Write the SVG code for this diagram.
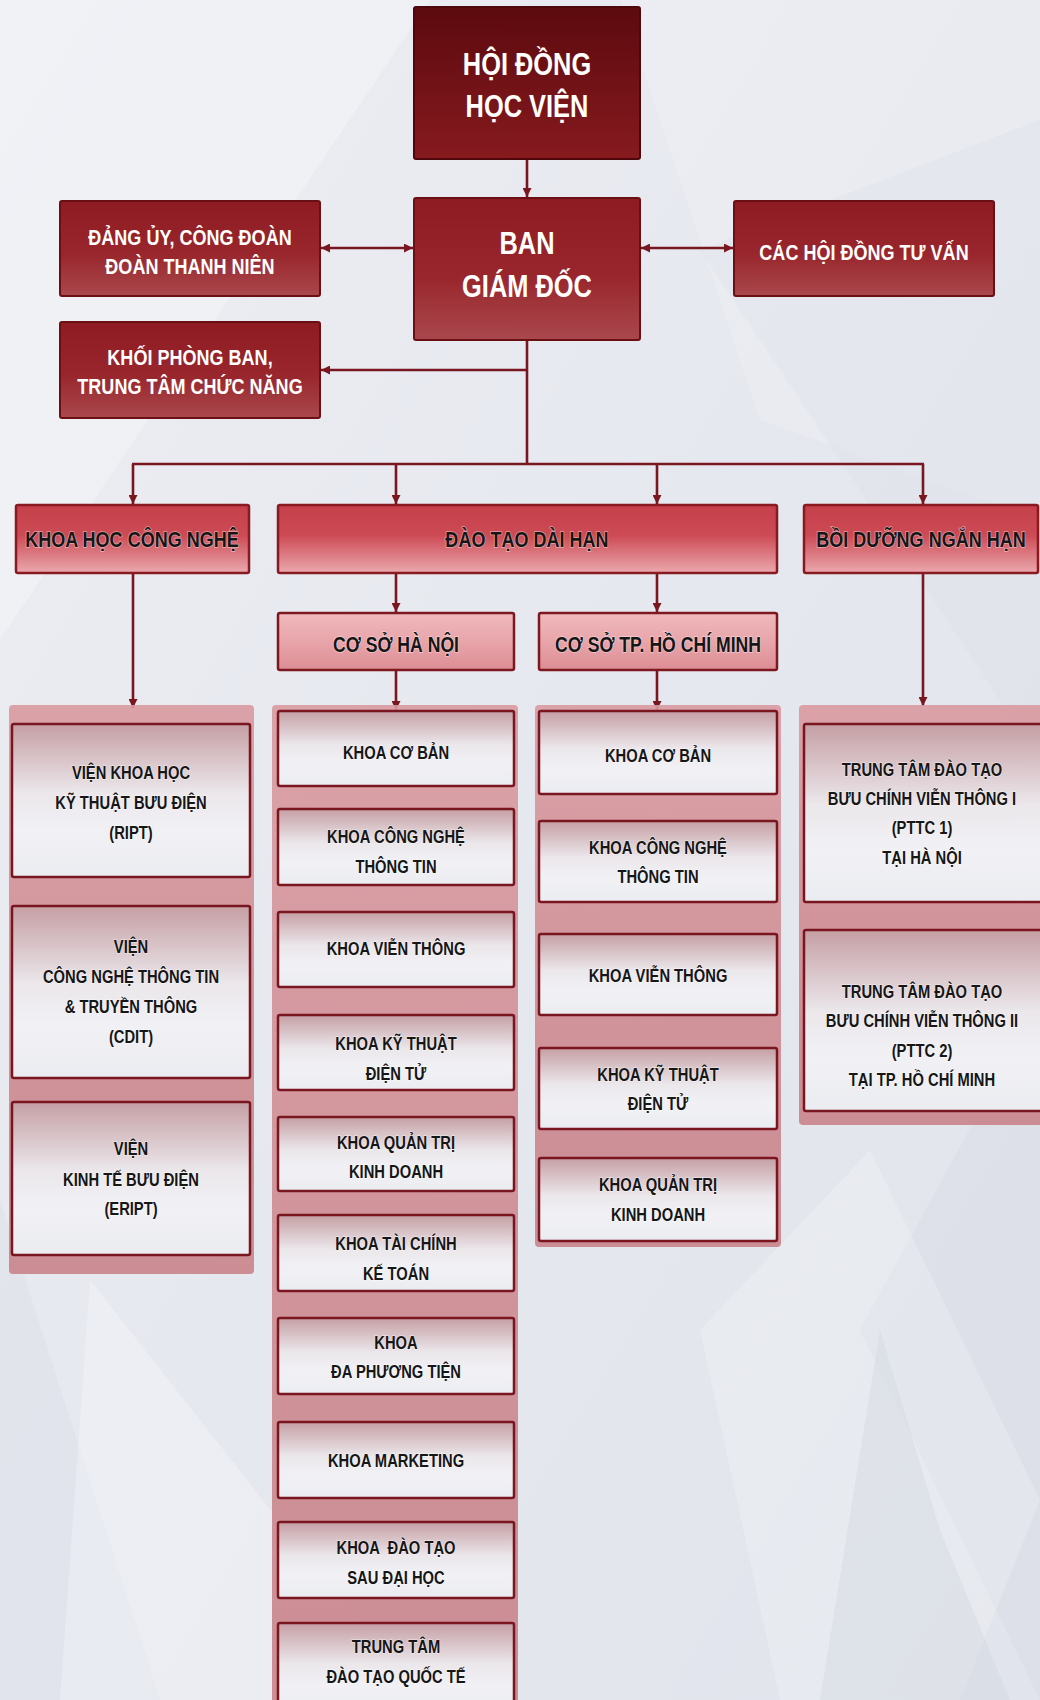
<svg xmlns="http://www.w3.org/2000/svg" width="1040" height="1700" viewBox="0 0 1040 1700">
<defs>
<linearGradient id="bg" x1="0" y1="0" x2="1" y2="1">
<stop offset="0" stop-color="#eceef3"/><stop offset="0.5" stop-color="#e6e8ef"/><stop offset="1" stop-color="#e1e4ec"/>
</linearGradient>
<linearGradient id="gTop" x1="0" y1="0" x2="0" y2="1">
<stop offset="0" stop-color="#5c0a0f"/><stop offset="1" stop-color="#861a1f"/>
</linearGradient>
<linearGradient id="gMid" x1="0" y1="0" x2="0" y2="1">
<stop offset="0" stop-color="#8e1b21"/><stop offset="0.55" stop-color="#98262c"/><stop offset="1" stop-color="#a9484d"/>
</linearGradient>
<linearGradient id="gL2" x1="0" y1="0" x2="0" y2="1">
<stop offset="0" stop-color="#c43f49"/><stop offset="0.45" stop-color="#cd4b55"/><stop offset="1" stop-color="#eaa9ae"/>
</linearGradient>
<linearGradient id="gCs" x1="0" y1="0" x2="0" y2="1">
<stop offset="0" stop-color="#f0b9bd"/><stop offset="0.5" stop-color="#e8a5aa"/><stop offset="1" stop-color="#dc8d94"/>
</linearGradient>
<linearGradient id="gPanel" x1="0" y1="0" x2="0" y2="1">
<stop offset="0" stop-color="#d99aa0"/><stop offset="0.5" stop-color="#cf8b92"/><stop offset="1" stop-color="#c9838a"/>
</linearGradient>
<linearGradient id="gBox" x1="0" y1="0" x2="0" y2="1">
<stop offset="0" stop-color="#c59fa4"/><stop offset="0.45" stop-color="#ebe7eb"/><stop offset="0.7" stop-color="#f1f1f5"/><stop offset="1" stop-color="#ebecf1"/>
</linearGradient>
<marker id="ah" viewBox="0 0 10 10" refX="10" refY="5" markerWidth="9" markerHeight="9" markerUnits="userSpaceOnUse" orient="auto-start-reverse">
<path d="M0,0 L10,5 L0,10 z" fill="#7a1620"/>
</marker>
<style>
.w{font-family:'Liberation Sans',Arial,sans-serif;font-weight:bold;fill:#fff;text-anchor:middle}
.d{font-family:'Liberation Sans',Arial,sans-serif;font-weight:bold;fill:#161616;text-anchor:middle;stroke:#ffffff;stroke-opacity:0.45;stroke-width:1.6;paint-order:stroke}
.f31{font-size:31px}.f22{font-size:22px}.f21{font-size:21.5px}.f18{font-size:18px}
.bTop{fill:url(#gTop);stroke:#4e080c;stroke-width:2}
.bMid{fill:url(#gMid);stroke:#6a1015;stroke-width:2}
.bL2{fill:url(#gL2);stroke:#8a1a22;stroke-width:2.5}
.bCs{fill:url(#gCs);stroke:#7e1820;stroke-width:2.5}
.panel{fill:url(#gPanel);opacity:0.9}
.box{fill:url(#gBox);stroke:#7a1620;stroke-width:2.5}
.c{stroke:#7a1620;stroke-width:2.6;fill:none}
</style>
</defs>

<g id="background">
<rect width="1040" height="1700" fill="url(#bg)"/>
<polygon points="0,0 430,0 0,640" fill="#ffffff" opacity="0.25"/>
<polygon points="620,0 1040,0 1040,520 760,420" fill="#ffffff" opacity="0.15"/>
<polygon points="700,250 1040,120 1040,760" fill="#d6dae3" opacity="0.25"/>
<polygon points="0,1200 160,1700 0,1700" fill="#d8dbe4" opacity="0.3"/>
<polygon points="90,1280 420,1700 60,1700" fill="#ffffff" opacity="0.25"/>
<polygon points="1040,1000 860,1330 1040,1700" fill="#d6d9e3" opacity="0.4"/>
<polygon points="700,1330 870,1150 1040,1500 960,1700 780,1700" fill="#ffffff" opacity="0.2"/>
<polygon points="880,1330 940,1530 1010,1700 820,1700" fill="#cfd3de" opacity="0.35"/>
</g>

<g id="connectors">
<line class="c" x1="527" y1="159" x2="527" y2="197" marker-end="url(#ah)"/>
<line class="c" x1="321" y1="248" x2="413" y2="248" marker-start="url(#ah)" marker-end="url(#ah)"/>
<line class="c" x1="641" y1="248" x2="733" y2="248" marker-start="url(#ah)" marker-end="url(#ah)"/>
<line class="c" x1="527" y1="340" x2="527" y2="465"/>
<line class="c" x1="527" y1="370" x2="321" y2="370" marker-end="url(#ah)"/>
<line class="c" x1="132" y1="464" x2="924" y2="464"/>
<line class="c" x1="133" y1="464" x2="133" y2="504" marker-end="url(#ah)"/>
<line class="c" x1="396" y1="464" x2="396" y2="504" marker-end="url(#ah)"/>
<line class="c" x1="657" y1="464" x2="657" y2="504" marker-end="url(#ah)"/>
<line class="c" x1="923" y1="464" x2="923" y2="504" marker-end="url(#ah)"/>
<line class="c" x1="396" y1="573" x2="396" y2="612" marker-end="url(#ah)"/>
<line class="c" x1="657" y1="573" x2="657" y2="612" marker-end="url(#ah)"/>
<line class="c" x1="133" y1="573" x2="133" y2="708" marker-end="url(#ah)"/>
<line class="c" x1="923" y1="573" x2="923" y2="706" marker-end="url(#ah)"/>
<line class="c" x1="396" y1="670" x2="396" y2="710" marker-end="url(#ah)"/>
<line class="c" x1="657" y1="670" x2="657" y2="710" marker-end="url(#ah)"/>
</g>

<g id="panels">
<rect class="panel" x="9" y="705" width="245" height="569" rx="4"/>
<rect class="panel" x="272" y="705" width="246" height="1000" rx="4"/>
<rect class="panel" x="535" y="705" width="246" height="542" rx="4"/>
<rect class="panel" x="799" y="705" width="245" height="420" rx="4"/>
</g>

<g id="hoi-dong-hoc-vien">
<rect class="bTop" x="414" y="7" width="226" height="152" rx="2"/>
<g transform="translate(527 0) scale(0.82 1)">
<text class="w f31" y="75">HỘI ĐỒNG</text>
<text class="w f31" y="117">HỌC VIỆN</text>
</g>
</g>
<g id="ban-giam-doc">
<rect class="bMid" x="414" y="198" width="226" height="142" rx="2"/>
<g transform="translate(527 0) scale(0.82 1)">
<text class="w f31" y="254">BAN</text>
<text class="w f31" y="297">GIÁM ĐỐC</text>
</g>
</g>
<g id="dang-uy">
<rect class="bMid" x="60" y="201" width="260" height="95" rx="2"/>
<g transform="translate(190 0) scale(0.82 1)">
<text class="w f22" y="245">ĐẢNG ỦY, CÔNG ĐOÀN</text>
<text class="w f22" y="274">ĐOÀN THANH NIÊN</text>
</g>
</g>
<g id="cac-hoi-dong-tu-van">
<rect class="bMid" x="734" y="201" width="260" height="95" rx="2"/>
<g transform="translate(864 0) scale(0.82 1)">
<text class="w f22" y="260">CÁC HỘI ĐỒNG TƯ VẤN</text>
</g>
</g>
<g id="khoi-phong-ban">
<rect class="bMid" x="60" y="322" width="260" height="96" rx="2"/>
<g transform="translate(190 0) scale(0.82 1)">
<text class="w f22" y="365">KHỐI PHÒNG BAN,</text>
<text class="w f22" y="394">TRUNG TÂM CHỨC NĂNG</text>
</g>
</g>

<g id="khoa-hoc-cong-nghe">
<rect class="bL2" x="16" y="505" width="233" height="68" rx="2"/>
<g transform="translate(132 0) scale(0.82 1)">
<text class="d f22" y="547">KHOA HỌC CÔNG NGHỆ</text>
</g>
</g>
<g id="dao-tao-dai-han">
<rect class="bL2" x="278" y="505" width="499" height="68" rx="2"/>
<g transform="translate(527 0) scale(0.82 1)">
<text class="d f22" y="547">ĐÀO TẠO DÀI HẠN</text>
</g>
</g>
<g id="boi-duong-ngan-han">
<rect class="bL2" x="804" y="505" width="234" height="68" rx="2"/>
<g transform="translate(921 0) scale(0.82 1)">
<text class="d f22" y="547">BỒI DƯỠNG NGẮN HẠN</text>
</g>
</g>

<g id="co-so-ha-noi">
<rect class="bCs" x="278" y="613" width="236" height="57" rx="2"/>
<g transform="translate(396 0) scale(0.82 1)">
<text class="d f21" y="652">CƠ SỞ HÀ NỘI</text>
</g>
</g>
<g id="co-so-hcm">
<rect class="bCs" x="539" y="613" width="238" height="57" rx="2"/>
<g transform="translate(658 0) scale(0.82 1)">
<text class="d f21" y="652">CƠ SỞ TP. HỒ CHÍ MINH</text>
</g>
</g>

<g id="vien-ript">
<rect class="box" x="12" y="724" width="238" height="153" rx="2"/>
<g transform="translate(131 0) scale(0.82 1)">
<text class="d f18" y="779">VIỆN KHOA HỌC</text>
<text class="d f18" y="809">KỸ THUẬT BƯU ĐIỆN</text>
<text class="d f18" y="839">(RIPT)</text>
</g>
</g>
<g id="vien-cdit">
<rect class="box" x="12" y="906" width="238" height="172" rx="2"/>
<g transform="translate(131 0) scale(0.82 1)">
<text class="d f18" y="953">VIỆN</text>
<text class="d f18" y="983">CÔNG NGHỆ THÔNG TIN</text>
<text class="d f18" y="1013">&amp; TRUYỀN THÔNG</text>
<text class="d f18" y="1043">(CDIT)</text>
</g>
</g>
<g id="vien-eript">
<rect class="box" x="12" y="1102" width="238" height="153" rx="2"/>
<g transform="translate(131 0) scale(0.82 1)">
<text class="d f18" y="1155">VIỆN</text>
<text class="d f18" y="1186">KINH TẾ BƯU ĐIỆN</text>
<text class="d f18" y="1215">(ERIPT)</text>
</g>
</g>

<g id="hn-khoa-co-ban">
<rect class="box" x="278" y="711" width="236" height="75" rx="2"/>
<g transform="translate(396 0) scale(0.82 1)">
<text class="d f18" y="759">KHOA CƠ BẢN</text>
</g>
</g>
<g id="hn-khoa-cntt">
<rect class="box" x="278" y="809" width="236" height="76" rx="2"/>
<g transform="translate(396 0) scale(0.82 1)">
<text class="d f18" y="843">KHOA CÔNG NGHỆ</text>
<text class="d f18" y="873">THÔNG TIN</text>
</g>
</g>
<g id="hn-khoa-vien-thong">
<rect class="box" x="278" y="912" width="236" height="75" rx="2"/>
<g transform="translate(396 0) scale(0.82 1)">
<text class="d f18" y="955">KHOA VIỄN THÔNG</text>
</g>
</g>
<g id="hn-khoa-ktdt">
<rect class="box" x="278" y="1015" width="236" height="75" rx="2"/>
<g transform="translate(396 0) scale(0.82 1)">
<text class="d f18" y="1050">KHOA KỸ THUẬT</text>
<text class="d f18" y="1080">ĐIỆN TỬ</text>
</g>
</g>
<g id="hn-khoa-qtkd">
<rect class="box" x="278" y="1117" width="236" height="74" rx="2"/>
<g transform="translate(396 0) scale(0.82 1)">
<text class="d f18" y="1149">KHOA QUẢN TRỊ</text>
<text class="d f18" y="1178">KINH DOANH</text>
</g>
</g>
<g id="hn-khoa-tckt">
<rect class="box" x="278" y="1215" width="236" height="76" rx="2"/>
<g transform="translate(396 0) scale(0.82 1)">
<text class="d f18" y="1250">KHOA TÀI CHÍNH</text>
<text class="d f18" y="1280">KẾ TOÁN</text>
</g>
</g>
<g id="hn-khoa-dpt">
<rect class="box" x="278" y="1318" width="236" height="76" rx="2"/>
<g transform="translate(396 0) scale(0.82 1)">
<text class="d f18" y="1349">KHOA</text>
<text class="d f18" y="1378">ĐA PHƯƠNG TIỆN</text>
</g>
</g>
<g id="hn-khoa-marketing">
<rect class="box" x="278" y="1422" width="236" height="76" rx="2"/>
<g transform="translate(396 0) scale(0.82 1)">
<text class="d f18" y="1467">KHOA MARKETING</text>
</g>
</g>
<g id="hn-khoa-sdh">
<rect class="box" x="278" y="1522" width="236" height="76" rx="2"/>
<g transform="translate(396 0) scale(0.82 1)">
<text class="d f18" y="1554" xml:space="preserve">KHOA  ĐÀO TẠO</text>
<text class="d f18" y="1584">SAU ĐẠI HỌC</text>
</g>
</g>
<g id="hn-tt-dtqt">
<rect class="box" x="278" y="1623" width="236" height="90" rx="2"/>
<g transform="translate(396 0) scale(0.82 1)">
<text class="d f18" y="1653">TRUNG TÂM</text>
<text class="d f18" y="1683">ĐÀO TẠO QUỐC TẾ</text>
</g>
</g>

<g id="hcm-khoa-co-ban">
<rect class="box" x="539" y="711" width="238" height="83" rx="2"/>
<g transform="translate(658 0) scale(0.82 1)">
<text class="d f18" y="762">KHOA CƠ BẢN</text>
</g>
</g>
<g id="hcm-khoa-cntt">
<rect class="box" x="539" y="821" width="238" height="81" rx="2"/>
<g transform="translate(658 0) scale(0.82 1)">
<text class="d f18" y="854">KHOA CÔNG NGHỆ</text>
<text class="d f18" y="883">THÔNG TIN</text>
</g>
</g>
<g id="hcm-khoa-vien-thong">
<rect class="box" x="539" y="934" width="238" height="81" rx="2"/>
<g transform="translate(658 0) scale(0.82 1)">
<text class="d f18" y="982">KHOA VIỄN THÔNG</text>
</g>
</g>
<g id="hcm-khoa-ktdt">
<rect class="box" x="539" y="1048" width="238" height="81" rx="2"/>
<g transform="translate(658 0) scale(0.82 1)">
<text class="d f18" y="1081">KHOA KỸ THUẬT</text>
<text class="d f18" y="1110">ĐIỆN TỬ</text>
</g>
</g>
<g id="hcm-khoa-qtkd">
<rect class="box" x="539" y="1158" width="238" height="83" rx="2"/>
<g transform="translate(658 0) scale(0.82 1)">
<text class="d f18" y="1191">KHOA QUẢN TRỊ</text>
<text class="d f18" y="1221">KINH DOANH</text>
</g>
</g>

<g id="pttc1">
<rect class="box" x="804" y="724" width="240" height="178" rx="2"/>
<g transform="translate(922 0) scale(0.82 1)">
<text class="d f18" y="776">TRUNG TÂM ĐÀO TẠO</text>
<text class="d f18" y="805">BƯU CHÍNH VIỄN THÔNG I</text>
<text class="d f18" y="834">(PTTC 1)</text>
<text class="d f18" y="864">TẠI HÀ NỘI</text>
</g>
</g>
<g id="pttc2">
<rect class="box" x="804" y="930" width="240" height="181" rx="2"/>
<g transform="translate(922 0) scale(0.82 1)">
<text class="d f18" y="998">TRUNG TÂM ĐÀO TẠO</text>
<text class="d f18" y="1027">BƯU CHÍNH VIỄN THÔNG II</text>
<text class="d f18" y="1057">(PTTC 2)</text>
<text class="d f18" y="1086">TẠI TP. HỒ CHÍ MINH</text>
</g>
</g>
</svg>
